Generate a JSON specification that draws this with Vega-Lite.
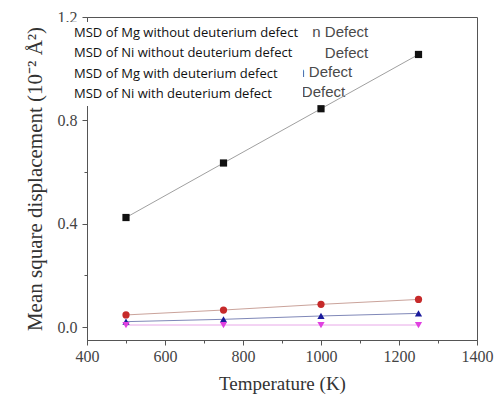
{
  "$schema": "https://vega.github.io/schema/vega-lite/v6.json",
  "width": 390,
  "height": 323,
  "autosize": {"type": "none"},
  "padding": {"left": 87, "top": 17, "right": 22, "bottom": 54},
  "background": "white",
  "config": {
    "view": {"stroke": "#555", "strokeWidth": 1},
    "axis": {"grid": false, "domainColor": "#555", "tickColor": "#555", "labelFont": "Liberation Serif", "labelFontSize": 16, "labelColor": "#444", "titleFont": "Liberation Serif", "titleFontWeight": "normal", "titleColor": "#333", "labelFlush": false, "labelOverlap": false},
    "legend": {"orient": "none", "legendX": -30, "legendY": 5,
      "symbolSize": 1, "symbolOpacity": 0, "symbolStrokeWidth": 0,
      "labelFont": "Open Sans", "labelFontSize": 13, "labelColor": "#111",
      "labelLimit": 400, "labelOffset": 0,
      "fillColor": "white", "padding": 4, "rowPadding": 6.6}
  },
  "datasets": {
    "msd": [
      {"T": 500, "msd": 0.424, "series": "MSD of Mg without deuterium defect"},
      {"T": 750, "msd": 0.635, "series": "MSD of Mg without deuterium defect"},
      {"T": 1000, "msd": 0.845, "series": "MSD of Mg without deuterium defect"},
      {"T": 1250, "msd": 1.055, "series": "MSD of Mg without deuterium defect"},
      {"T": 500, "msd": 0.047, "series": "MSD of Ni without deuterium defect"},
      {"T": 750, "msd": 0.066, "series": "MSD of Ni without deuterium defect"},
      {"T": 1000, "msd": 0.088, "series": "MSD of Ni without deuterium defect"},
      {"T": 1250, "msd": 0.107, "series": "MSD of Ni without deuterium defect"},
      {"T": 500, "msd": 0.021, "series": "MSD of Mg with deuterium defect"},
      {"T": 750, "msd": 0.030, "series": "MSD of Mg with deuterium defect"},
      {"T": 1000, "msd": 0.043, "series": "MSD of Mg with deuterium defect"},
      {"T": 1250, "msd": 0.053, "series": "MSD of Mg with deuterium defect"},
      {"T": 500, "msd": 0.008, "series": "MSD of Ni with deuterium defect"},
      {"T": 750, "msd": 0.008, "series": "MSD of Ni with deuterium defect"},
      {"T": 1000, "msd": 0.008, "series": "MSD of Ni with deuterium defect"},
      {"T": 1250, "msd": 0.008, "series": "MSD of Ni with deuterium defect"}
    ],
    "remnant": [
      {"T": 1121, "msd": 1.142, "text": "n Defect"},
      {"T": 1121, "msd": 1.061, "text": "Defect"},
      {"T": 1080, "msd": 0.987, "text": "m Defect"},
      {"T": 1062, "msd": 0.910, "text": "erium Defect"}
    ]
  },
  "encoding": {
    "x": {
      "field": "T", "type": "quantitative",
      "scale": {"domain": [400, 1400], "nice": false, "zero": false},
      "axis": {
        "title": "Temperature (K)",
        "titleFontSize": 19,
        "values": [400, 500, 600, 700, 800, 900, 1000, 1100, 1200, 1300, 1400],
        "format": "d",
        "labelExpr": "datum.value % 200 == 0 ? datum.label : ''",
        "tickSize": {"condition": {"test": "datum.value % 200 == 0", "value": 5}, "value": 3},
        "labelPadding": 3,
        "titlePadding": 10
      }
    },
    "y": {
      "field": "msd", "type": "quantitative",
      "scale": {"domain": [-0.05, 1.2], "nice": false, "zero": false},
      "axis": {
        "title": "Mean square displacement (10⁻² Å²)",
        "titleFontSize": 21,
        "values": [0, 0.2, 0.4, 0.6, 0.8, 1.0, 1.2],
        "format": ".1f",
        "labelExpr": "round(datum.value * 10) % 4 == 0 ? datum.label : ''",
        "tickSize": {"condition": {"test": "round(datum.value * 10) % 4 == 0", "value": 5}, "value": 3},
        "labelPadding": 5,
        "titlePadding": 12
      }
    }
  },
  "layer": [
    {
      "data": {"name": "remnant"},
      "mark": {"type": "text", "align": "right", "baseline": "middle", "font": "Liberation Sans", "fontSize": 15, "color": "#4a4a4a"},
      "encoding": {"text": {"field": "text"}}
    },
    {
      "data": {"name": "msd"},
      "mark": {"type": "line", "strokeWidth": 1},
      "encoding": {
        "stroke": {
          "field": "series", "type": "nominal", "title": null,
          "scale": {"domain": ["MSD of Mg without deuterium defect", "MSD of Ni without deuterium defect", "MSD of Mg with deuterium defect", "MSD of Ni with deuterium defect"], "range": ["#a0a0a0", "#caa39b", "#8088b8", "#e8a8e8"]}
        }
      }
    },
    {
      "data": {"name": "msd"},
      "mark": {"type": "point", "filled": true, "opacity": 1, "size": 52},
      "encoding": {
        "fill": {
          "field": "series", "type": "nominal", "title": null,
          "scale": {"domain": ["MSD of Mg without deuterium defect", "MSD of Ni without deuterium defect", "MSD of Mg with deuterium defect", "MSD of Ni with deuterium defect"], "range": ["#111111", "#c62a2a", "#1a1a9c", "#e040e0"]}
        },
        "shape": {
          "field": "series", "type": "nominal", "title": null,
          "scale": {"domain": ["MSD of Mg without deuterium defect", "MSD of Ni without deuterium defect", "MSD of Mg with deuterium defect", "MSD of Ni with deuterium defect"], "range": ["square", "circle", "triangle-up", "triangle-down"]}
        }
      }
    }
  ]
}
